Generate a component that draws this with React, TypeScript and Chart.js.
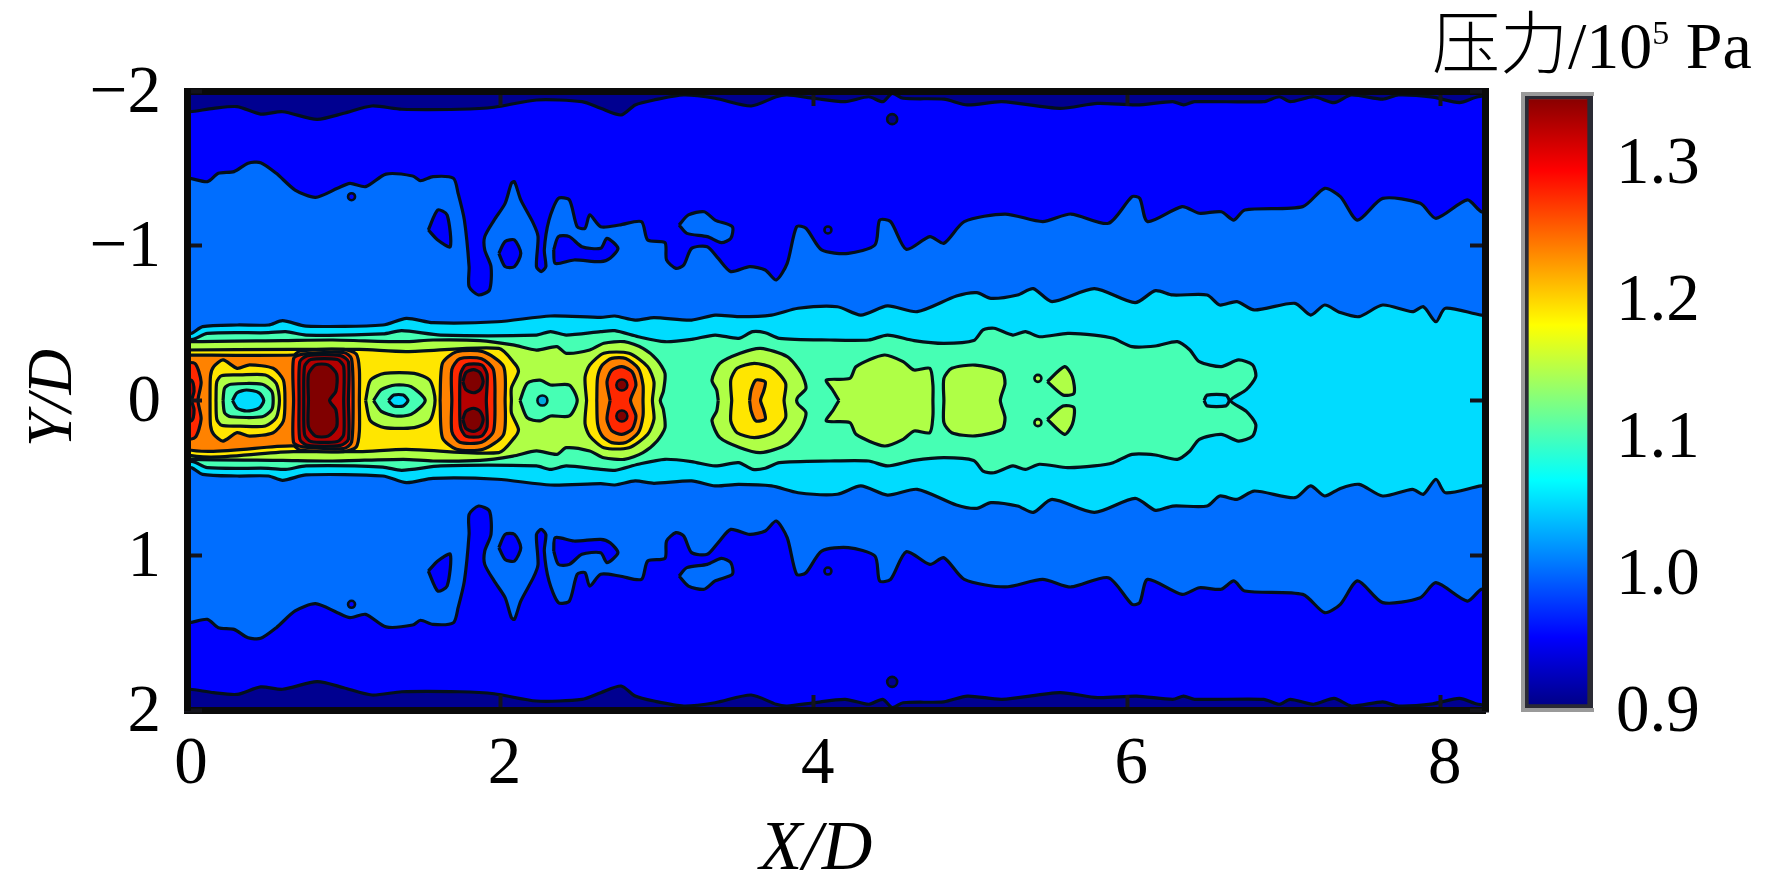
import React, { useEffect, useRef } from "react";
import { Chart, registerables } from "chart.js";

Chart.register(...registerables);

type P = [number, number];

const xTicks = [0, 2, 4, 6, 8];
const yTickLabels: Record<string, string> = { "-2": "−2", "-1": "−1", "0": "0", "1": "1", "2": "2" };
const barTicks = [0.9, 1.0, 1.1, 1.2, 1.3];
const barRange = [0.9, 1.35];
const xLimits = [0, 8.283];
const yLimits = [-2, 2];
const xTitle = "X/D";
const yTitle = "Y/D";

// upper half of each contour; the field is mirrored about Y/D = 0
const navyEdge: P[] = [[-0.05,-1.866],[0.02,-1.866],[0.17,-1.888],[0.32,-1.899],[0.47,-1.851],[0.61,-1.866],[0.83,-1.817],[1.0,-1.856],[1.18,-1.903],[1.37,-1.882],[1.74,-1.882],[1.96,-1.895],[2.23,-1.942],[2.52,-1.931],[2.64,-1.888],[2.77,-1.845],[2.86,-1.91],[2.98,-1.942],[3.17,-1.974],[3.37,-1.953],[3.6,-1.903],[3.76,-1.963],[3.83,-1.974],[4.0,-1.953],[4.2,-1.931],[4.35,-1.963],[4.44,-1.931],[4.5,-1.985],[4.57,-1.953],[4.83,-1.947],[4.98,-1.91],[5.2,-1.931],[5.57,-1.888],[5.81,-1.92],[6.06,-1.91],[6.29,-1.931],[6.36,-1.91],[6.43,-1.931],[6.87,-1.931],[6.97,-1.963],[7.04,-1.931],[7.19,-1.963],[7.32,-1.925],[7.43,-1.974],[7.63,-1.947],[7.73,-1.974],[7.95,-1.96],[8.12,-1.925],[8.24,-1.963],[8.4,-1.963]];
const blueEdge: P[] = [[-0.05,-1.435],[0.02,-1.435],[0.13,-1.414],[0.2,-1.468],[0.3,-1.479],[0.39,-1.533],[0.47,-1.537],[0.57,-1.468],[0.69,-1.36],[0.82,-1.313],[0.96,-1.371],[1.04,-1.403],[1.14,-1.382],[1.27,-1.463],[1.44,-1.451],[1.49,-1.42],[1.57,-1.447],[1.7,-1.436],[1.73,-1.339],[1.77,-1.166],[1.8,-0.865],[1.8,-0.736],[1.86,-0.682],[1.93,-0.714],[1.94,-0.865],[1.9,-0.973],[1.9,-1.059],[1.96,-1.166],[2.03,-1.274],[2.07,-1.403],[2.09,-1.414],[2.13,-1.296],[2.21,-1.145],[2.24,-1.06],[2.23,-0.865],[2.26,-0.833],[2.29,-0.865],[2.28,-0.973],[2.31,-1.166],[2.37,-1.306],[2.44,-1.296],[2.49,-1.123],[2.54,-1.113],[2.57,-1.199],[2.64,-1.123],[2.76,-1.134],[2.9,-1.156],[2.94,-1.037],[3.05,-1.02],[3.06,-0.908],[3.12,-0.854],[3.17,-0.876],[3.22,-0.983],[3.32,-0.994],[3.39,-0.918],[3.47,-0.833],[3.59,-0.865],[3.69,-0.843],[3.76,-0.779],[3.83,-0.886],[3.89,-1.123],[3.95,-1.113],[4.05,-0.973],[4.22,-0.951],[4.39,-1.005],[4.42,-1.166],[4.49,-1.156],[4.59,-0.977],[4.74,-1.059],[4.83,-1.016],[4.96,-1.156],[5.22,-1.205],[5.46,-1.156],[5.64,-1.205],[5.88,-1.145],[6.03,-1.317],[6.08,-1.306],[6.13,-1.156],[6.35,-1.253],[6.46,-1.21],[6.6,-1.22],[6.68,-1.166],[6.75,-1.231],[7.12,-1.253],[7.26,-1.371],[7.36,-1.317],[7.47,-1.166],[7.63,-1.306],[7.87,-1.274],[7.97,-1.177],[8.17,-1.296],[8.26,-1.22],[8.4,-1.2]];
const cyanEdge: P[] = [[-0.05,-0.42],[0.03,-0.434],[0.1,-0.477],[0.32,-0.488],[0.52,-0.488],[0.61,-0.516],[0.76,-0.481],[1.25,-0.488],[1.4,-0.531],[1.57,-0.503],[1.98,-0.509],[2.32,-0.546],[2.64,-0.537],[2.73,-0.546],[2.86,-0.52],[2.98,-0.535],[3.22,-0.52],[3.37,-0.552],[3.52,-0.542],[3.73,-0.552],[3.9,-0.596],[4.15,-0.606],[4.3,-0.552],[4.47,-0.611],[4.66,-0.574],[4.91,-0.675],[5.04,-0.697],[5.13,-0.66],[5.3,-0.682],[5.4,-0.723],[5.52,-0.639],[5.79,-0.723],[6.05,-0.632],[6.18,-0.71],[6.29,-0.682],[6.51,-0.682],[6.59,-0.617],[6.7,-0.639],[6.81,-0.585],[7.07,-0.628],[7.17,-0.552],[7.26,-0.617],[7.36,-0.568],[7.48,-0.542],[7.63,-0.617],[7.82,-0.574],[7.89,-0.606],[7.97,-0.509],[8.03,-0.596],[8.26,-0.552],[8.4,-0.55]];
const tealEdge: P[] = [[-0.05,-0.39],[0.04,-0.395],[0.13,-0.434],[0.52,-0.438],[0.63,-0.445],[0.76,-0.423],[1.25,-0.43],[1.37,-0.451],[1.62,-0.423],[2.23,-0.423],[2.32,-0.445],[2.42,-0.423],[2.64,-0.445],[2.73,-0.451],[2.88,-0.412],[3.05,-0.38],[3.22,-0.395],[3.37,-0.423],[3.52,-0.402],[3.61,-0.445],[3.69,-0.438],[3.78,-0.402],[4.1,-0.391],[4.35,-0.391],[4.47,-0.423],[4.64,-0.387],[4.83,-0.369],[5.02,-0.387],[5.08,-0.456],[5.15,-0.467],[5.27,-0.423],[5.35,-0.445],[5.44,-0.412],[5.62,-0.434],[5.79,-0.423],[5.91,-0.402],[6.03,-0.348],[6.18,-0.352],[6.32,-0.38],[6.4,-0.326],[6.46,-0.251],[6.6,-0.219],[6.71,-0.262],[6.8,-0.23],[6.82,-0.154],[6.76,-0.07],[6.66,0]];
const limeEdge: P[] = [[-0.05,-0.37],[0.03,-0.38],[0.61,-0.387],[0.93,-0.391],[1.38,-0.38],[1.57,-0.391],[1.87,-0.387],[2.08,-0.359],[2.23,-0.326],[2.36,-0.348],[2.42,-0.305],[2.57,-0.326],[2.66,-0.37],[2.79,-0.38],[2.91,-0.337],[3.0,-0.262],[3.05,-0.176],[3.04,-0.06],[3.02,0]];
const yellowEdge: P[] = [[-0.05,-0.326],[0.68,-0.33],[1.1,-0.33],[1.4,-0.316],[1.99,-0.337],[2.09,-0.24],[2.115,-0.186],[2.07,-0.08],[2.07,0]];
const orangeEdge: P[] = [[-0.05,-0.294],[0.68,-0.294],[0.72,-0.32],[1.0,-0.33],[1.08,-0.3],[1.1,-0.2],[1.1,0]];
const edgeRed: P[] = [[-0.05,-0.24],[0.05,-0.24],[0.09,-0.12],[0.07,0]];
const edgeDark: P[] = [[-0.05,-0.14],[0.03,-0.13],[0.045,-0.06],[0.03,0]];

const ring1Yellow: P[] = [[0.147,0],[0.15,-0.16],[0.17,-0.218],[0.23,-0.262],[0.32,-0.208],[0.4,-0.23],[0.55,-0.208],[0.615,-0.132],[0.625,0]];
const ring1Lime: P[] = [[0.185,0],[0.19,-0.12],[0.22,-0.16],[0.34,-0.165],[0.5,-0.165],[0.57,-0.11],[0.59,0]];
const ring1Teal: P[] = [[0.23,0],[0.24,-0.08],[0.28,-0.105],[0.48,-0.105],[0.54,-0.06],[0.55,0]];
const ring1Cyan: P[] = [[0.29,0],[0.32,-0.05],[0.38,-0.068],[0.46,-0.05],[0.49,0]];

const blob1Red: P[] = [[0.68,0],[0.68,-0.27],[0.74,-0.3],[1.0,-0.31],[1.05,-0.27],[1.06,0]];
const blob1Deep: P[] = [[0.715,0],[0.72,-0.25],[0.77,-0.29],[0.98,-0.29],[1.03,-0.25],[1.03,0]];
const blob1Inner: P[] = [[0.745,0],[0.75,-0.22],[0.79,-0.265],[0.96,-0.265],[1.0,-0.22],[1.0,0]];
const blob1Core: P[] = [[0.775,0],[0.775,-0.17],[0.82,-0.23],[0.9,-0.23],[0.955,-0.17],[0.95,-0.06],[0.91,0]];

const ring2Lime: P[] = [[1.14,0],[1.17,-0.13],[1.26,-0.175],[1.45,-0.175],[1.55,-0.13],[1.583,0]];
const ring2Teal: P[] = [[1.19,0],[1.24,-0.07],[1.33,-0.1],[1.43,-0.09],[1.52,0]];
const ring2Cyan: P[] = [[1.285,0],[1.32,-0.035],[1.38,-0.035],[1.41,0]];

const blob3Orange: P[] = [[1.615,0],[1.63,-0.24],[1.72,-0.315],[1.89,-0.315],[2.02,-0.22],[2.03,0]];
const blob3Red: P[] = [[1.69,0],[1.69,-0.2],[1.74,-0.27],[1.88,-0.27],[1.955,-0.2],[1.965,0]];
const blob3Deep: P[] = [[1.74,0],[1.745,-0.17],[1.78,-0.23],[1.88,-0.23],[1.915,-0.17],[1.91,0]];
const blob3Lobe: P[] = [[1.76,-0.122],[1.78,-0.18],[1.828,-0.2],[1.87,-0.18],[1.89,-0.122],[1.87,-0.07],[1.828,-0.05],[1.78,-0.07],[1.76,-0.122]];

const pocketTeal: P[] = [[2.125,0],[2.17,-0.111],[2.253,-0.132],[2.32,-0.1],[2.44,-0.1],[2.49,0]];

const blob4Yellow: P[] = [[2.55,0],[2.54,-0.15],[2.57,-0.229],[2.66,-0.305],[2.82,-0.305],[2.94,-0.218],[2.98,-0.12],[2.97,0]];
const blob4Orange: P[] = [[2.615,0],[2.62,-0.15],[2.65,-0.229],[2.71,-0.272],[2.8,-0.272],[2.88,-0.208],[2.91,-0.1],[2.91,0]];
const blob4Red: P[] = [[2.7,0],[2.68,-0.12],[2.71,-0.195],[2.775,-0.219],[2.84,-0.186],[2.865,-0.1],[2.83,0]];

const blob5Lime: P[] = [[3.39,0],[3.38,-0.068],[3.35,-0.132],[3.4,-0.24],[3.53,-0.305],[3.66,-0.337],[3.83,-0.283],[3.92,-0.176],[3.95,-0.079],[3.9,-0.025],[3.89,0]];
const blob5Yellow: P[] = [[3.476,0],[3.47,-0.132],[3.51,-0.208],[3.62,-0.24],[3.74,-0.208],[3.82,-0.111],[3.81,0]];
const blob5Orange: P[] = [[3.59,0],[3.6,-0.068],[3.63,-0.132],[3.69,-0.12],[3.68,-0.06],[3.66,0]];

const blob6Lime: P[] = [[4.16,0],[4.12,-0.068],[4.08,-0.132],[4.23,-0.143],[4.27,-0.219],[4.45,-0.294],[4.57,-0.251],[4.64,-0.197],[4.74,-0.208],[4.76,-0.1],[4.76,0]];
const blob7Lime: P[] = [[4.83,0],[4.83,-0.143],[4.88,-0.208],[5.03,-0.229],[5.2,-0.186],[5.22,-0.111],[5.19,0]];
const wedgeLime: P[] = [[5.49,-0.122],[5.6,-0.219],[5.65,-0.154],[5.66,-0.046],[5.59,-0.036],[5.49,-0.122]];
const tipCyan: P[] = [[6.49,0],[6.51,-0.035],[6.63,-0.035],[6.65,0]];

const isleA: P[] = [[1.54,-1.102],[1.6,-1.231],[1.66,-1.199],[1.68,-0.994],[1.6,-1.037],[1.54,-1.102]];
const isleB: P[] = [[1.99,-0.951],[2.03,-1.027],[2.09,-1.037],[2.13,-0.951],[2.09,-0.865],[2.03,-0.865],[1.99,-0.951]];
const isleC: P[] = [[2.34,-0.973],[2.37,-1.059],[2.44,-1.059],[2.52,-0.994],[2.64,-0.984],[2.68,-1.048],[2.75,-0.984],[2.7,-0.919],[2.64,-0.897],[2.47,-0.908],[2.35,-0.886],[2.34,-0.973]];
const isleD: P[] = [[3.14,-1.134],[3.2,-1.199],[3.3,-1.22],[3.37,-1.166],[3.48,-1.123],[3.47,-1.048],[3.41,-1.02],[3.32,-1.059],[3.19,-1.08],[3.14,-1.134]];

const navySpots: P[] = [[4.5,-1.818],[4.5,1.818]];
const blueSpots: P[] = [[1.05,-1.317],[1.05,1.317],[4.09,-1.102],[4.09,1.102]];
const limeSpots: P[] = [[5.43,-0.143],[5.43,0.143]];
const pocketSpot: P[] = [[2.268,0]];
const darkSpots: P[] = [[2.775,-0.1],[2.775,0.1]];

const barStops: [number, string][] = [[0.9,"#00007f"],[0.953,"#0000ff"],[1.01,"#0080ff"],[1.068,"#00ffff"],[1.125,"#80ff80"],[1.181,"#ffff00"],[1.237,"#ff8000"],[1.294,"#ff0000"],[1.35,"#800000"]];

const NAVY = "#000090", BLUE = "#0000ff", MID = "#006eff", CYAN = "#00dcff", TEAL = "#46ffb4", LIME = "#afff46", YELLOW = "#ffe600", ORANGE = "#ff8200", RED = "#ff2800", DEEP = "#b40000", DARK = "#800000";
const LINE = "#04101a";
const SERIF = "'Liberation Serif', 'Noto Sans CJK SC', serif";
const FS = 67;

const mirror = (e: P[]): P[] => {
  const low = e.filter((p) => p[1] !== 0).reverse().map(([x, y]) => [x, -y] as P);
  return [...e, ...low, e[0]];
};
const flip = (e: P[]): P[] => e.map(([x, y]) => [x, -y] as P);

const layers: [P[], string][] = [
  [mirror(navyEdge), BLUE],
  [mirror(blueEdge), MID],
  [isleA, BLUE], [flip(isleA), BLUE], [isleB, BLUE], [flip(isleB), BLUE], [isleC, BLUE], [flip(isleC), BLUE],
  [isleD, MID], [flip(isleD), MID],
  [mirror(cyanEdge), CYAN],
  [mirror(tealEdge), TEAL],
  [mirror(limeEdge), LIME],
  [mirror(yellowEdge), YELLOW],
  [mirror(orangeEdge), ORANGE],
  [mirror(edgeRed), RED], [mirror(edgeDark), DEEP],
  [mirror(ring1Yellow), YELLOW], [mirror(ring1Lime), LIME], [mirror(ring1Teal), TEAL], [mirror(ring1Cyan), CYAN],
  [mirror(blob1Red), RED], [mirror(blob1Deep), DEEP], [mirror(blob1Inner), DEEP], [mirror(blob1Core), DARK],
  [mirror(ring2Lime), LIME], [mirror(ring2Teal), TEAL], [mirror(ring2Cyan), CYAN],
  [mirror(blob3Orange), ORANGE], [mirror(blob3Red), RED], [mirror(blob3Deep), DEEP], [blob3Lobe, DARK], [flip(blob3Lobe), DARK],
  [mirror(pocketTeal), TEAL],
  [mirror(blob4Yellow), YELLOW], [mirror(blob4Orange), ORANGE], [mirror(blob4Red), RED],
  [mirror(blob5Lime), LIME], [mirror(blob5Yellow), YELLOW], [mirror(blob5Orange), ORANGE],
  [mirror(blob6Lime), LIME], [mirror(blob7Lime), LIME], [wedgeLime, LIME], [flip(wedgeLime), LIME],
  [mirror(tipCyan), CYAN],
];

const spots: [P[], string, number][] = [
  [navySpots, NAVY, 5], [blueSpots, BLUE, 3.5], [limeSpots, LIME, 3.5], [pocketSpot, "#00a8e0", 5], [darkSpots, DARK, 5.5],
];

const frame = { left: 187, right: 1485, top: 91, bottom: 710 };
const barBox = { canvasLeft: 1400, left: 1523, right: 1593, top: 93.5, bottom: 710 };

export default function App() {
  const plotRef = useRef<HTMLCanvasElement>(null);
  const barRef = useRef<HTMLCanvasElement>(null);

  useEffect(() => {
    const pt = (p: P) => ({ x: p[0], y: p[1] });
    const n = layers.length + spots.length + 1;
    const polygons: any[] = [
      { data: [[-0.1,-2.1],[8.5,-2.1],[8.5,2.1],[-0.1,2.1],[-0.1,-2.1]].map((p) => pt(p as P)), backgroundColor: NAVY, borderWidth: 0, fill: "shape", showLine: true, pointRadius: 0, order: n },
      ...layers.map(([pts, color], i) => ({
        data: pts.map(pt),
        backgroundColor: color,
        borderColor: LINE,
        borderWidth: 3.2,
        fill: "shape",
        showLine: true,
        pointRadius: 0,
        tension: 0.25,
        order: n - 1 - i,
      })),
      ...spots.map(([pts, color, r], i) => ({
        data: pts.map(pt),
        showLine: false,
        pointRadius: r,
        pointBackgroundColor: color,
        pointBorderColor: LINE,
        pointBorderWidth: 2.6,
        order: spots.length - i,
      })),
    ];

    const tickFont = { family: SERIF, size: FS };
    const frameAxis = {
      grid: { display: true, drawOnChartArea: false, drawTicks: true, tickLength: -15, tickWidth: 4, tickColor: "#14141c", z: 3 },
      border: { display: true, color: "#0a0a0a", width: 7, z: 3 },
    };
    const axisTitles = {
      id: "axisTitles",
      afterDraw(c: Chart) {
        const ctx = c.ctx;
        ctx.save();
        ctx.fillStyle = "#000";
        ctx.textAlign = "center";
        ctx.textBaseline = "middle";
        ctx.font = `italic 70px ${SERIF}`;
        ctx.fillText(xTitle, 816, 851);
        ctx.font = `italic 63px ${SERIF}`;
        ctx.translate(54, 398);
        ctx.rotate(-Math.PI / 2);
        ctx.fillText(yTitle, 0, 0);
        ctx.restore();
      },
    };

    const plot = new Chart(plotRef.current!, {
      type: "scatter",
      data: { datasets: polygons },
      plugins: [axisTitles],
      options: {
        animation: false,
        responsive: false,
        layout: { padding: { top: frame.top, right: 1772 - frame.right, left: 0, bottom: 0 } },
        plugins: { legend: { display: false }, tooltip: { enabled: false }, title: { display: false } },
        scales: {
          x: {
            type: "linear", position: "bottom", min: xLimits[0], max: xLimits[1],
            ...frameAxis,
            afterBuildTicks: (s: any) => { s.ticks = xTicks.map((v) => ({ value: v })); },
            ticks: { font: tickFont, color: "#000", padding: 30, labelOffset: 4, maxRotation: 0, autoSkip: false, callback: (v: any) => String(v) },
            afterFit: (s: any) => { s.height = 890 - frame.bottom; },
          },
          x2: {
            type: "linear", position: "top", min: xLimits[0], max: xLimits[1],
            ...frameAxis,
            afterBuildTicks: (s: any) => { s.ticks = xTicks.map((v) => ({ value: v })); },
            ticks: { display: false },
            afterFit: (s: any) => { s.height = 0; },
          },
          y: {
            type: "linear", position: "left", min: yLimits[0], max: yLimits[1], reverse: true,
            ...frameAxis,
            ticks: { font: tickFont, color: "#000", padding: 41, labelOffset: 3, stepSize: 1, autoSkip: false, callback: (v: any) => yTickLabels[String(v)] },
            afterFit: (s: any) => { s.width = frame.left; },
          },
          y2: {
            type: "linear", position: "right", min: yLimits[0], max: yLimits[1], reverse: true,
            ...frameAxis,
            ticks: { display: false, stepSize: 1 },
            afterFit: (s: any) => { s.width = 0; },
          },
        },
      } as any,
    });

    const edgeAxis = {
      type: "category",
      grid: { display: false, drawTicks: false },
      border: { display: true, color: "#9a9a9a", width: 4, z: 2 },
      ticks: { display: false },
    };
    const bar = new Chart(barRef.current!, {
      type: "bar",
      data: {
        labels: ["p"],
        datasets: [{
          data: [barRange] as any,
          barPercentage: 1,
          categoryPercentage: 1,
          borderColor: "#2a2a34",
          borderWidth: 6,
          borderSkipped: false,
          backgroundColor: (ctx: any) => {
            const area = ctx.chart.chartArea;
            if (!area) return BLUE;
            const g = ctx.chart.ctx.createLinearGradient(0, area.bottom, 0, area.top);
            barStops.forEach(([v, c]) => g.addColorStop((v - barRange[0]) / (barRange[1] - barRange[0]), c));
            return g;
          },
        }],
      },
      options: {
        animation: false,
        responsive: false,
        layout: { padding: { top: barBox.top, left: 0, right: 0, bottom: 0 } },
        plugins: { legend: { display: false }, tooltip: { enabled: false } },
        scales: {
          x: { ...edgeAxis, position: "bottom", afterFit: (s: any) => { s.height = 890 - barBox.bottom; } },
          xTop: { ...edgeAxis, position: "top", afterFit: (s: any) => { s.height = 0; } },
          y: {
            position: "right", min: barRange[0], max: barRange[1],
            grid: { display: false, drawTicks: false },
            border: { display: false },
            afterBuildTicks: (s: any) => { s.ticks = barTicks.map((v) => ({ value: v })); },
            ticks: { font: tickFont, color: "#000", padding: 23, labelOffset: 3, autoSkip: false, callback: (v: any) => Number(v).toFixed(1) },
            afterFit: (s: any) => { s.width = 1772 - barBox.right; },
          },
          yEdge: {
            position: "left", min: barRange[0], max: barRange[1],
            grid: { display: false, drawTicks: false },
            border: { display: true, color: "#9a9a9a", width: 4, z: 2 },
            ticks: { display: false },
            afterFit: (s: any) => { s.width = barBox.left - barBox.canvasLeft; },
          },
        },
      } as any,
    });

    return () => {
      plot.destroy();
      bar.destroy();
    };
  }, []);

  return (
    <div style={{ position: "fixed", left: 0, top: 0, width: 1772, height: 890, background: "#fff", overflow: "hidden" }}>
      <canvas ref={plotRef} width={1772} height={890} style={{ position: "absolute", left: 0, top: 0, width: 1772, height: 890, filter: "blur(0.5px)" }} />
      <canvas ref={barRef} width={1772 - barBox.canvasLeft} height={890} style={{ position: "absolute", left: barBox.canvasLeft, top: 0, width: 1772 - barBox.canvasLeft, height: 890 }} />
      <div style={{ position: "absolute", left: 1432, top: -4, fontFamily: SERIF, fontSize: 66, fontWeight: 300, lineHeight: "74px", whiteSpace: "nowrap", color: "#000" }}>
        <span style={{ fontSize: 68 }}>压力</span>/10<span style={{ fontSize: 34, verticalAlign: 24 }}>5</span> Pa
      </div>
    </div>
  );
}
